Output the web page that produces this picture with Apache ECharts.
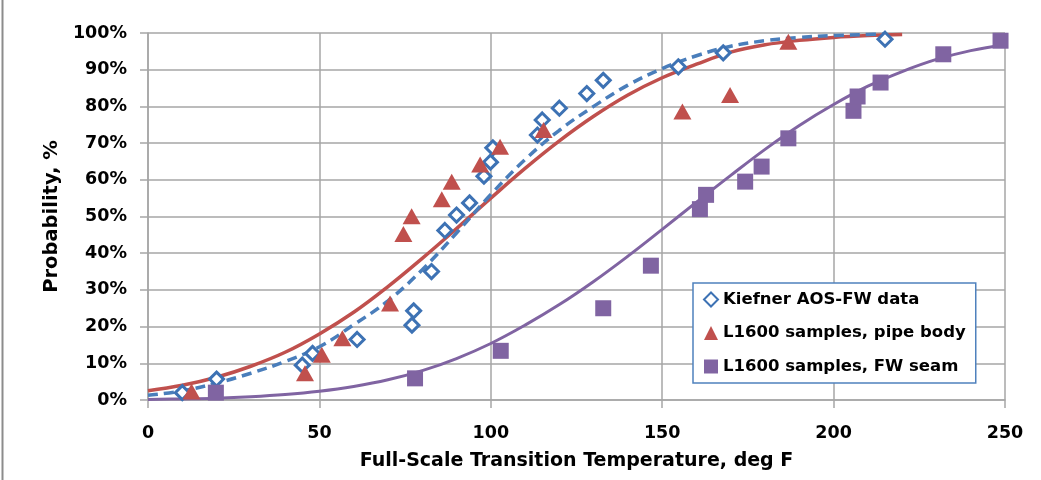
<!DOCTYPE html>
<html><head><meta charset="utf-8">
<script src="https://cdn.jsdelivr.net/npm/echarts@6/dist/echarts.min.js"></script>
<style>html,body{margin:0;padding:0;background:#fff}#c{width:1041px;height:480px}</style>
</head><body><div id="c"></div><script>
// Scatter data: [temperature degF, probability %]
const kiefnerData = [[10,2],[20,5.7],[45,9.5],[48,12.7],[61,16.5],[77,20.4],[77.5,24.3],[82.7,35],[86.6,46.2],[90,50.4],[93.8,53.7],[98,61],[99.9,64.8],[100.6,68.7],[113.6,72.2],[115,76.3],[120,79.5],[128,83.5],[132.8,87.1],[154.7,90.8],[167.8,94.6],[215,98.3]];
const pipeBodyData = [[12.7,2.3],[45.8,7.3],[50.7,12.3],[56.7,16.8],[70.6,26.3],[74.5,45.2],[76.9,50.1],[85.7,54.7],[88.6,59.5],[96.9,64.2],[102.7,69],[115.4,73.6],[155.9,78.6],[169.8,83.1],[186.8,97.6]];
const fwSeamData = [[19.8,2],[77.9,5.9],[102.9,13.4],[132.8,25],[146.7,36.6],[161,52],[162.8,55.9],[174.2,59.5],[179,63.6],[186.8,71.3],[205.8,78.8],[207,82.7],[213.7,86.5],[232,94.2],[248.7,97.9]];

// Fitted curves
const blueFitX = [0,10,20,30,40,50,60,70,80,90,100,110,120,130,140,150,160,170,180,190,200,210,215];
const blueFitY = [1.3,2.5,4.6,7.3,10.5,14.5,20.5,27,35.5,45.5,56,65.5,73.5,80,85.8,90.3,93.8,96.4,97.9,98.8,99.3,99.6,99.7];
const redFitX = [0,10,20,30,40,50,60,70,80,90,100,110,120,130,140,150,160,170,180,190,200,210,220];
const redFitY = [2.5,4.0,6.2,9.2,13.0,18.0,23.9,30.9,38.6,46.7,55.0,63.1,70.6,77.3,83.1,87.8,91.5,94.8,96.8,98.0,98.8,99.3,99.6];
const purpleFitX = [0,10,20,30,40,50,60,70,80,90,100,110,120,130,140,150,160,170,180,190,200,210,220,230,240,250];
const purpleFitY = [0.16,0.3,0.5,0.9,1.5,2.4,3.7,5.5,8.0,11.3,15.4,20.4,26.0,32.3,39.2,46.5,53.9,61.2,68.3,74.8,80.5,85.5,89.5,92.8,95.2,96.8];

const legendNames = ['Kiefner AOS-FW data','L1600 samples, pipe body','L1600 samples, FW seam'];
const xAxisTitle = 'Full-Scale Transition Temperature, deg F';
const yAxisTitle = 'Probability, %';

const zip = (xs, ys) => xs.map((x, i) => [x, ys[i]]);
const FONT = '"DejaVu Sans", sans-serif';
const BLUE = '#3d72b4', RED = '#c0504d', PURPLE = '#8064a2', GRID = '#a6a6a6';

const chart = echarts.init(document.getElementById('c'), null, {renderer: 'canvas'});
chart.setOption({
  animation: false,
  backgroundColor: '#fff',
  grid: {left: 148, right: 36, top: 33, bottom: 80, containLabel: false},
  graphic: [{type: 'line', shape: {x1: 2.5, y1: 0, x2: 2.5, y2: 480}, style: {stroke: '#8c8c8c', lineWidth: 2}}],
  legend: {
    orient: 'vertical', left: 693, top: 283,
    padding: [8, 10, 8, 10], itemGap: 16.5, itemWidth: 14, itemHeight: 14,
    backgroundColor: '#fff', borderColor: '#4f81bd', borderWidth: 1.5, borderRadius: 0,
    textStyle: {fontFamily: FONT, fontWeight: 'bold', fontSize: 16.5, color: '#000'},
    data: [
      {name: legendNames[0], icon: 'diamond'},
      {name: legendNames[1], icon: 'triangle'},
      {name: legendNames[2], icon: 'rect'}
    ]
  },
  xAxis: {
    type: 'value', min: 0, max: 250, interval: 50,
    name: xAxisTitle, nameLocation: 'middle', nameGap: 52,
    nameTextStyle: {fontFamily: FONT, fontWeight: 'bold', fontSize: 19, color: '#000'},
    axisLine: {show: true, lineStyle: {color: GRID, width: 1.5}},
    axisTick: {show: true, length: 8, lineStyle: {color: GRID, width: 1.5}},
    axisLabel: {margin: 24, fontFamily: FONT, fontWeight: 'bold', fontSize: 17.5, color: '#000'},
    splitLine: {show: true, lineStyle: {color: GRID, width: 1.5}}
  },
  yAxis: {
    type: 'value', min: 0, max: 100, interval: 10,
    name: yAxisTitle, nameLocation: 'middle', nameGap: 84, nameRotate: 90,
    nameTextStyle: {fontFamily: FONT, fontWeight: 'bold', fontSize: 19.5, color: '#000'},
    axisLine: {show: true, lineStyle: {color: GRID, width: 1.5}},
    axisTick: {show: true, length: 8, lineStyle: {color: GRID, width: 1.5}},
    axisLabel: {margin: 21, formatter: '{value}%', fontFamily: FONT, fontWeight: 'bold', fontSize: 17.5, color: '#000'},
    splitLine: {show: true, lineStyle: {color: GRID, width: 1.5}}
  },
  series: [
    {name: 'fwFit', type: 'line', data: zip(purpleFitX, purpleFitY), smooth: 0.4, showSymbol: false, silent: true,
     lineStyle: {color: PURPLE, width: 3}, z: 2},
    {name: 'bodyFit', type: 'line', data: zip(redFitX, redFitY), smooth: 0.4, showSymbol: false, silent: true,
     lineStyle: {color: RED, width: 3.5}, z: 2},
    {name: 'kiefnerFit', type: 'line', data: zip(blueFitX, blueFitY), smooth: 0.4, showSymbol: false, silent: true,
     lineStyle: {color: '#4a7ebb', width: 3.5, type: [10, 6]}, z: 3},
    {name: legendNames[0], type: 'scatter', data: kiefnerData, symbol: 'diamond', symbolSize: 14,
     itemStyle: {color: '#fff', borderColor: BLUE, borderWidth: 3, opacity: 1}, z: 4},
    {name: legendNames[1], type: 'scatter', data: pipeBodyData, symbol: 'triangle', symbolSize: [18, 16],
     itemStyle: {color: RED, opacity: 1}, z: 5},
    {name: legendNames[2], type: 'scatter', data: fwSeamData, symbol: 'rect', symbolSize: 16,
     itemStyle: {color: PURPLE, opacity: 1}, z: 6}
  ]
});
</script></body></html>
